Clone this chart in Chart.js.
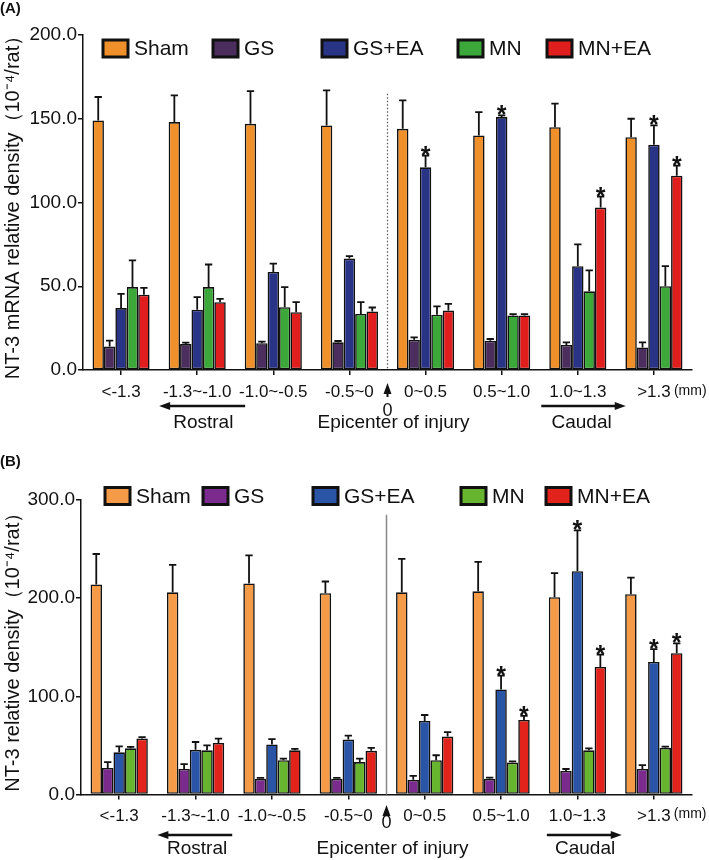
<!DOCTYPE html>
<html><head><meta charset="utf-8">
<script src="https://cdn.jsdelivr.net/npm/chart.js@4.4.0/dist/chart.umd.min.js"></script>
<style>
html,body{margin:0;padding:0;background:#fff;}
#wrap{position:relative;width:709px;height:860px;overflow:hidden;}
canvas{position:absolute;left:0;}
</style></head><body>
<div id="wrap">
<canvas id="cA" width="709" height="435" style="top:0"></canvas>
<canvas id="cB" width="709" height="425" style="top:435px"></canvas>
</div>
<script>
// ---------- DATA ----------
const categories = ['<-1.3','-1.3~-1.0','-1.0~-0.5','-0.5~0','0~0.5','0.5~1.0','1.0~1.3','>1.3'];
const seriesNames = ['Sham','GS','GS+EA','MN','MN+EA'];

// Panel A: NT-3 mRNA relative density
const yTicksA = [0, 50, 100, 150, 200];
const shamA     = [149, 148, 147, 146, 144, 140, 145, 139];
const shamAErr  = [14, 16, 19.5, 21, 17, 14, 14, 11];
const gsA       = [14, 15.5, 16, 16.5, 18, 17.5, 15, 13.5];
const gsAErr    = [3.5, 0.8, 1, 0.8, 1.5, 1, 1.5, 3];
const gseaA     = [37, 36, 58.5, 66.5, 121, 151, 62, 134.5];
const gseaAErr  = [8.5, 7.5, 5, 1.5, 7, 1, 13, 11.5];
const mnA       = [49.5, 49.5, 37.5, 33.5, 33, 32.6, 47, 50];
const mnAErr    = [16, 13.5, 12, 7, 5, 0.8, 12.5, 12];
const mneaA     = [45, 40.5, 34.5, 35, 35.5, 32.6, 97, 116];
const mneaAErr  = [4, 2, 6, 2.3, 4, 0.8, 6.5, 6];
const gseaAStar = [false, false, false, false, true, true, false, true];
const mneaAStar = [false, false, false, false, false, false, true, true];

// Panel B: NT-3 relative density
const yTicksB = [0, 100, 200, 300];
const shamB     = [214, 206, 215, 205, 206, 207, 201, 204];
const shamBErr  = [31, 28, 28.5, 12, 34, 30, 24.5, 17];
const gsB       = [27, 26, 16, 16, 15, 16, 24, 26];
const gsBErr    = [6, 5, 1, 1, 4, 1.2, 2, 4];
const gseaB     = [43, 45.5, 51, 56, 75, 107, 227.5, 135];
const gseaBErr  = [6, 8, 5.5, 4, 6, 14, 41.5, 13];
const mnB       = [47, 45, 35, 33, 35, 32.5, 45, 47.5];
const mnBErr    = [1.5, 5, 1.5, 3.5, 5, 1.2, 2, 1.3];
const mneaB     = [57, 52.5, 45, 44.5, 59, 76, 130, 144];
const mneaBErr  = [1.5, 4.5, 1.5, 3, 4.5, 4, 12.5, 10];
const gseaBStar = [false, false, false, false, false, true, true, true];
const mneaBStar = [false, false, false, false, false, true, true, true];

// ---------- STYLE ----------
const FONT = '"Liberation Sans", Arial, Helvetica, sans-serif';
Chart.defaults.font.family = FONT;
Chart.defaults.color = '#111';

const colorsA = ['#F0902A', '#4B2D5E', '#2A3486', '#3CA83A', '#E01E1E'];
const colorsB = ['#F59B48', '#7B2B8E', '#2A55A6', '#67B52F', '#E2231B'];

function mkDatasets(vals, errs, stars, colors){
  return seriesNames.map((n, k) => ({
    label: n, data: vals[k], errors: errs[k], stars: stars[k],
    backgroundColor: colors[k], borderColor: '#111', borderWidth: 1.6,
    borderSkipped: false, categoryPercentage: 0.75, barPercentage: 1.0
  }));
}

const errPlugin = {
  id: 'errbars',
  afterDatasetsDraw(chart){
    const ctx = chart.ctx, ys = chart.scales.y;
    chart.data.datasets.forEach((ds, di) => {
      const meta = chart.getDatasetMeta(di);
      meta.data.forEach((bar, i) => {
        const yTop = ys.getPixelForValue(ds.data[i] + ds.errors[i]);
        ctx.save();
        ctx.strokeStyle = '#111'; ctx.lineWidth = 1.8;
        ctx.beginPath();
        ctx.moveTo(bar.x, bar.y); ctx.lineTo(bar.x, yTop);
        const hw = bar.width * 0.32;
        ctx.moveTo(bar.x - hw, yTop); ctx.lineTo(bar.x + hw, yTop);
        ctx.stroke();
        if (ds.stars && ds.stars[i]) {
          ctx.fillStyle = '#111';
          ctx.font = 'bold 25px ' + FONT;
          ctx.textAlign = 'center'; ctx.textBaseline = 'alphabetic';
          ctx.fillText('*', bar.x, yTop + 8);
        }
        ctx.restore();
      });
    });
  }
};

function arrowH(ctx, x1, x2, y){ // head at x1
  const dir = Math.sign(x2 - x1);
  ctx.beginPath(); ctx.lineWidth = 2.5; ctx.strokeStyle = '#111';
  ctx.moveTo(x1 + dir*8, y); ctx.lineTo(x2, y); ctx.stroke();
  ctx.beginPath(); ctx.fillStyle = '#111';
  ctx.moveTo(x1, y); ctx.lineTo(x1 + dir*11, y - 4); ctx.lineTo(x1 + dir*11, y + 4); ctx.closePath(); ctx.fill();
}

const annoPlugin = {
  id: 'anno',
  afterDraw(chart, args, o){
    const ctx = chart.ctx, xs = chart.scales.x, ys = chart.scales.y, ca = chart.chartArea;
    ctx.save();
    // panel letter
    ctx.fillStyle = '#111'; ctx.font = 'bold 15px ' + FONT; ctx.textAlign = 'left'; ctx.textBaseline = 'middle';
    ctx.fillText(o.letter, 0, o.letterY);
    // divider
    const xd = xs.getPixelForValue(3.5);
    ctx.strokeStyle = o.divColor; ctx.lineWidth = o.divWidth; ctx.setLineDash(o.divDash);
    ctx.beginPath(); ctx.moveTo(xd, ys.getPixelForValue(o.divTop)); ctx.lineTo(xd, ca.bottom); ctx.stroke();
    ctx.setLineDash([]);
    // (mm)
    ctx.strokeStyle = '#111';
    ctx.font = '14px ' + FONT; ctx.textAlign = 'left';
    ctx.fillText('(mm)', xs.getPixelForValue(7) + 20, o.tickY);
    // arrows
    arrowH(ctx, xs.getPixelForValue(o.rostral[0]), xs.getPixelForValue(o.rostral[1]), o.arrowY);
    arrowH(ctx, xs.getPixelForValue(o.caudal[1]), xs.getPixelForValue(o.caudal[0]), o.arrowY);
    // up arrow at epicenter
    ctx.beginPath(); ctx.lineWidth = 2; ctx.moveTo(xd, o.upBottom); ctx.lineTo(xd, o.upTop + 6); ctx.stroke();
    ctx.beginPath(); ctx.moveTo(xd, o.upTop); ctx.lineTo(xd - 4, o.upTop + 11); ctx.lineTo(xd + 4, o.upTop + 11); ctx.closePath(); ctx.fill();
    ctx.font = '18px ' + FONT; ctx.textAlign = 'center';
    ctx.fillText('0', xd, o.zeroY);
    ctx.font = '19px ' + FONT;
    ctx.fillText('Rostral', xs.getPixelForValue(o.rostralText), o.textY);
    ctx.fillText('Epicenter of injury', xd + 6, o.textY);
    ctx.fillText('Caudal', xs.getPixelForValue(o.caudalText), o.textY);
    // legend
    ctx.textAlign = 'left'; ctx.font = '21px ' + FONT;
    seriesNames.forEach((n, k) => {
      const bx = o.legendX[k];
      ctx.fillStyle = o.colors[k];
      ctx.fillRect(bx, o.legendY - 8.5, 25, 17);
      ctx.lineWidth = 3; ctx.strokeStyle = '#111';
      ctx.strokeRect(bx, o.legendY - 8.5, 25, 17);
      ctx.fillStyle = '#111';
      ctx.fillText(n, bx + 31, o.legendY + 1);
    });
    ctx.restore();
  }
};

function makeChart(id, datasets, yMax, step, title, yW, padTop, xH, anno){
  return new Chart(document.getElementById(id), {
    type: 'bar',
    data: { labels: categories, datasets },
    options: {
      responsive: false, animation: false, events: [],
      layout: { padding: { top: padTop, right: 17, left: 0, bottom: 0 } },
      plugins: { legend: { display: false }, tooltip: { enabled: false }, anno },
      scales: {
        x: {
          offset: true,
          grid: { offset: false, drawOnChartArea: false, drawTicks: true, tickLength: 5, color: '#111', lineWidth: 1.5 },
          border: { color: '#111', width: 1.5 },
          ticks: { autoSkip: false, maxRotation: 0, font: { size: 17 }, color: '#111', padding: 7 },
          afterFit(s){ s.height = xH; }
        },
        y: {
          min: 0, max: yMax,
          grid: { drawOnChartArea: false, drawTicks: true, tickLength: 5, color: '#111', lineWidth: 1.5 },
          border: { color: '#111', width: 1.5 },
          ticks: { stepSize: step, font: { size: 19 }, color: '#111', padding: 1, callback: v => Number(v).toFixed(1) },
          title: { display: true, text: title, font: { size: 20 }, color: '#111', padding: { top: 1, bottom: 0 } },
          afterFit(s){ s.width = yW; }
        }
      }
    },
    plugins: [errPlugin, annoPlugin]
  });
}

makeChart('cA',
  mkDatasets([shamA, gsA, gseaA, mnA, mneaA], [shamAErr, gsAErr, gseaAErr, mnAErr, mneaAErr],
             [null, null, gseaAStar, null, mneaAStar], colorsA),
  yTicksA[yTicksA.length-1], yTicksA[1]-yTicksA[0], 'NT-3 mRNA relative density（10⁻⁴/rat）', 83, 35, 65,
  { letter: '(A)', letterY: 9, divColor: '#555', divWidth: 1.2, divDash: [1.5, 2], divTop: 165,
    tickY: 391, rostral: [0.5, 1.63], caudal: [5.52, 6.63], arrowY: 406, upTop: 383, upBottom: 397, zeroY: 411,
    textY: 423, rostralText: 1.08, caudalText: 6.05,
    legendX: [103, 213, 322, 458, 547], legendY: 48.5, colors: colorsA });

makeChart('cB',
  mkDatasets([shamB, gsB, gseaB, mnB, mneaB], [shamBErr, gsBErr, gseaBErr, mnBErr, mneaBErr],
             [null, null, gseaBStar, null, mneaBStar], colorsB),
  yTicksB[yTicksB.length-1], yTicksB[1]-yTicksB[0], 'NT-3 relative density（10⁻⁴/rat）', 81, 65, 65.5,
  { letter: '(B)', letterY: 27, divColor: '#888', divWidth: 1.5, divDash: [], divTop: 285,
    tickY: 379, rostral: [0.5, 1.48], caudal: [5.6, 6.58], arrowY: 400, upTop: 370, upBottom: 381, zeroY: 388,
    textY: 414, rostralText: 1.02, caudalText: 6.1,
    legendX: [105, 203, 313, 461, 546], legendY: 61, colors: colorsB });
</script>
</body></html>
